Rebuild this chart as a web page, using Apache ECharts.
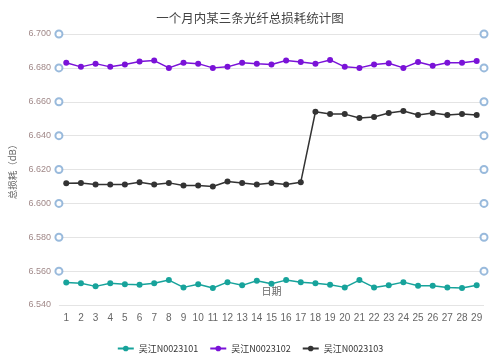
<!DOCTYPE html>
<html>
<head>
<meta charset="utf-8">
<script src="https://cdn.jsdelivr.net/npm/echarts@6/dist/echarts.min.js"></script>
<style>html,body{margin:0;padding:0;background:#fff}#c{width:500px;height:363px}</style>
</head>
<body>
<div id="c"></div>
<script>
const categories = ['1','2','3','4','5','6','7','8','9','10','11','12','13','14','15','16','17','18','19','20','21','22','23','24','25','26','27','28','29'];
const seriesNames = ['吴江N0023101','吴江N0023102','吴江N0023103'];
const fiber1 = [6.5533,6.5529,6.5510,6.5529,6.5523,6.5520,6.5529,6.5547,6.5504,6.5523,6.5500,6.5535,6.5516,6.5543,6.5525,6.5547,6.5535,6.5529,6.5520,6.5504,6.5547,6.5504,6.5516,6.5535,6.5514,6.5514,6.5504,6.5500,6.5516];
const fiber2 = [6.6830,6.6806,6.6825,6.6806,6.6820,6.6837,6.6843,6.6800,6.6830,6.6825,6.6800,6.6806,6.6830,6.6824,6.6820,6.6843,6.6835,6.6825,6.6847,6.6806,6.6800,6.6820,6.6827,6.6800,6.6835,6.6812,6.6830,6.6830,6.6840];
const fiber3 = [6.6119,6.6120,6.6111,6.6111,6.6111,6.6125,6.6111,6.6121,6.6105,6.6105,6.6100,6.6129,6.6120,6.6111,6.6120,6.6111,6.6125,6.6541,6.6527,6.6527,6.6504,6.6510,6.6533,6.6545,6.6522,6.6533,6.6522,6.6527,6.6522];
const yTicks = [6.560,6.580,6.600,6.620,6.640,6.660,6.680,6.700];

const edgeMarks = [];
yTicks.forEach(v => { edgeMarks.push([0, v]); edgeMarks.push([1, v]); });

const chart = echarts.init(document.getElementById('c'), null, {renderer:'canvas'});
const colors = ['#17a39b','#7a12d8','#333333'];
const mkLine = (name, data, color) => ({
  name, type:'line', data, xAxisIndex:0,
  symbol:'circle', symbolSize:6,
  itemStyle:{color}, lineStyle:{color, width:1.5}
});
chart.setOption({
  animation:false,
  title:{text:'一个月内某三条光纤总损耗统计图', left:'center', top:7,
    textStyle:{fontSize:12.5, fontWeight:'normal', color:'#444', fontFamily:'Noto Sans CJK SC'}},
  legend:{data:seriesNames, bottom:5, left:'center', itemWidth:16, itemHeight:7, itemGap:11,
    textStyle:{fontSize:9, color:'#333', fontFamily:'Noto Sans CJK SC'}},
  grid:{left:44, right:16, top:34, bottom:58},
  xAxis:[{
    type:'category', data:categories, boundaryGap:true,
    name:'日期', nameLocation:'middle', nameGap:-19,
    nameTextStyle:{fontSize:10, color:'#666', fontFamily:'Noto Sans CJK SC'},
    axisLine:{show:false}, axisTick:{show:false},
    axisLabel:{fontSize:10, color:'#666', margin:8, interval:0}
  },{
    type:'value', min:0, max:1, show:false
  }],
  yAxis:{
    type:'value', min:6.54, max:6.70, interval:0.02,
    name:'总损耗（dB）', nameLocation:'middle', nameGap:34,
    nameTextStyle:{fontSize:9.5, color:'#666', fontFamily:'Noto Sans CJK SC'},
    axisLine:{show:false}, axisTick:{show:false},
    axisLabel:{fontSize:9, color:'#a08888', formatter: v => v.toFixed(3)},
    splitLine:{lineStyle:{color:'#e4e4e4', width:1}}
  },
  series:[
    mkLine(seriesNames[0], fiber1, colors[0]),
    mkLine(seriesNames[1], fiber2, colors[1]),
    mkLine(seriesNames[2], fiber3, colors[2]),
    {type:'scatter', xAxisIndex:1, data:edgeMarks, symbol:'emptyCircle', symbolSize:7,
     clip:false, silent:true, itemStyle:{color:'#7fa9d3', borderWidth:1.8}, z:1}
  ]
});
</script>
</body>
</html>
